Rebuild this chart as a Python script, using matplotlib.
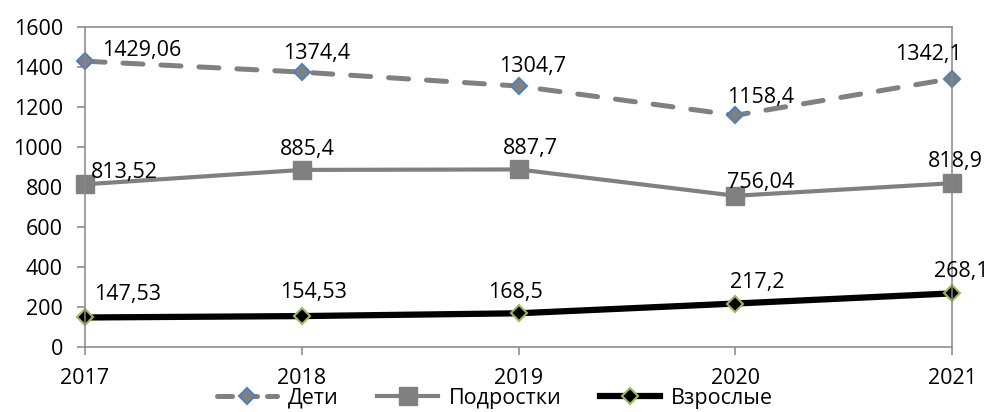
import matplotlib.pyplot as plt
from matplotlib.lines import Line2D

# data
years = [2017, 2018, 2019, 2020, 2021]
deti = [1429.06, 1374.4, 1304.7, 1158.4, 1342.1]
podrostki = [813.52, 885.4, 887.7, 756.04, 818.9]
vzroslye = [147.53, 154.53, 168.5, 217.2, 268.1]
deti_lbl = ["1429,06", "1374,4", "1304,7", "1158,4", "1342,1"]
podr_lbl = ["813,52", "885,4", "887,7", "756,04", "818,9"]
vzr_lbl = ["147,53", "154,53", "168,5", "217,2", "268,1"]

# label offsets (pixels, text centre / baseline relative to the marker)
deti_off = [(57, 5), (15, 13), (14, 14), (25, 12), (-24, 19)]
podr_off = [(39, 6), (6, 15), (12, 15), (25, 8), (3, 16)]
vzr_off = [(43, 17), (12, 18), (-3, 15), (22, 16), (9, 16)]

plt.rcParams['font.family'] = ['Open Sans', 'DejaVu Sans']
FS = 15.5

fig = plt.figure(figsize=(9.9, 4.12), dpi=100)
ax = fig.add_axes([0.0859, 0.1578, 0.8758, 0.7767])

gray = '#808080'
deti_style = dict(color=gray, lw=3.6, ls=(0, (4, 3.6)), dash_capstyle='round',
                  marker='D', ms=8.5, mfc=gray, mec='#4F81BD', mew=1.5)
podr_style = dict(color=gray, lw=3, marker='s', ms=13, mfc=gray, mec=gray)
vzr_style = dict(color='black', lw=4.5, marker='D', ms=8.5,
                 mfc='black', mec='#9BBB59', mew=1.5)

ax.plot(years, deti, clip_on=False, **deti_style)
ax.plot(years, podrostki, clip_on=False, **podr_style)
ax.plot(years, vzroslye, clip_on=False, **vzr_style)

def labels(vals, txts, offs):
    for x, v, t, (dx, dy) in zip(years, vals, txts, offs):
        ax.annotate(t, (x, v), xytext=(dx, dy), textcoords='offset pixels',
                    ha='center', va='baseline', fontsize=FS)

labels(deti, deti_lbl, deti_off)
labels(podrostki, podr_lbl, podr_off)
labels(vzroslye, vzr_lbl, vzr_off)

ax.set_xlim(2017, 2021)
ax.set_ylim(0, 1600)
ax.set_yticks(range(0, 1601, 200))
ax.set_xticks(years)
for s in ax.spines.values():
    s.set_color('#868686')
    s.set_linewidth(1.1)
ax.tick_params(axis='both', color='#868686', length=6, width=1.1, labelsize=FS)
ax.tick_params(axis='x', pad=9)
ax.tick_params(axis='y', pad=10)

handles = [
    Line2D([], [], **{**deti_style, 'ls': (0, (3, 2))}),
    Line2D([], [], **podr_style),
    Line2D([], [], **vzr_style),
]
fig.legend(handles, ['Дети', 'Подростки', 'Взрослые'], loc='center',
           bbox_to_anchor=(0.5, 0.033), ncol=3, frameon=False, handlelength=2.8,
           handletextpad=0.5, columnspacing=1.8, fontsize=FS,
           borderpad=0.1)

fig.savefig('out.png', dpi=100)
